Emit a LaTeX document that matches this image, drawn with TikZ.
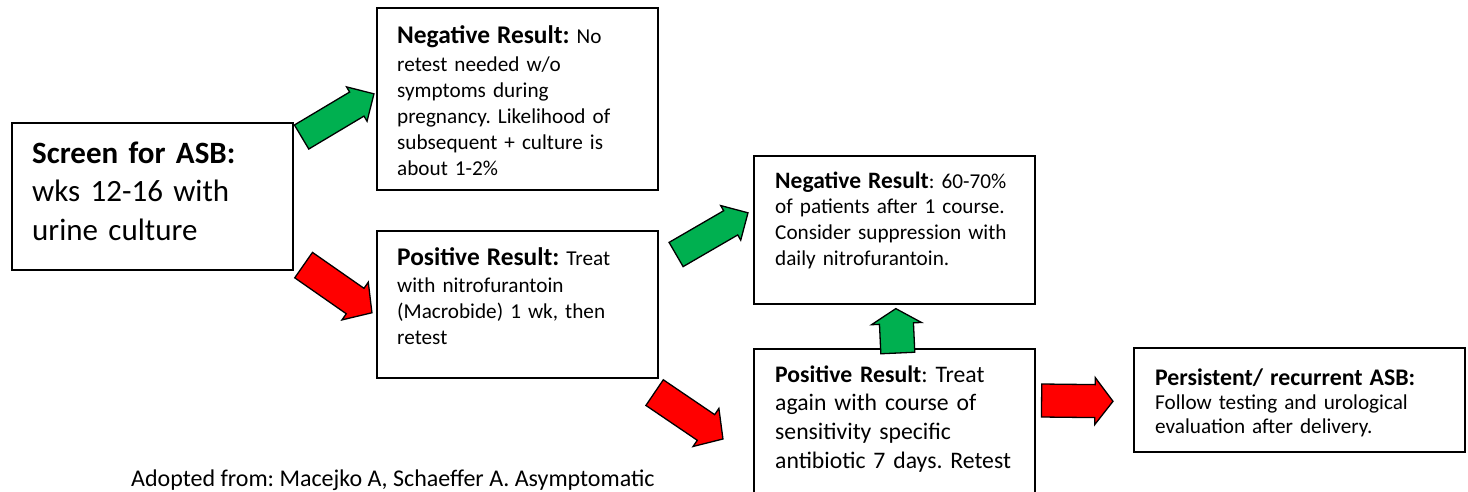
\documentclass[tikz,border=0pt]{standalone}
\usepackage{fontspec}
\setmainfont{Carlito}
\usetikzlibrary{calc}
\frenchspacing
\definecolor{ink}{RGB}{0,0,0}
\definecolor{okgreen}{RGB}{0,176,80}
\definecolor{alarmred}{RGB}{255,0,0}
\newcommand{\bodysize}{\fontsize{21.2}{25.8}\selectfont}
\newcommand{\headline}[1]{{\fontsize{25.4}{25.8}\selectfont\bfseries #1}}
% block arrow: fill, shaft width, head width, head length, tail, tip
\newcommand{\blockarrow}[6]{%
    \path (#5); \pgfgetlastxy{\baxa}{\baya}%
    \path (#6); \pgfgetlastxy{\baxb}{\bayb}%
    \pgfmathsetmacro{\baang}{atan2(\bayb-\baya,\baxb-\baxa)}%
    \pgfmathsetmacro{\balen}{veclen(\baxb-\baxa,\bayb-\baya)}%
    \pgfmathsetmacro{\baneck}{\balen-#4}%
    \draw[blockarrow, fill=#1, shift={(#5)}, rotate=\baang]
        (0,{-#2/2}) -- (\baneck,{-#2/2}) -- (\baneck,{-#3/2}) -- (\balen,0)
        -- (\baneck,{#3/2}) -- (\baneck,{#2/2}) -- (0,{#2/2}) -- cycle;
}
\tikzset{
    box/.style={
        rectangle,
        draw=ink,
        line width=1.6pt,
        fill=white,
        inner sep=0pt,
        anchor=north west
    },
    boxtext/.style={
        anchor=base west,
        inner sep=0pt,
        align=left,
        text width=255pt,
        text=ink,
        font=\bodysize
    },
    blockarrow/.style={
        draw=ink,
        line width=1.3pt,
        line join=miter
    }
}

\begin{document}
\begin{tikzpicture}[x=1pt, y=1pt]
    \useasboundingbox (0,0) rectangle (1468,-491);
    \clip (0,0) rectangle (1468,-491);

    % Boxes
    \node[box, minimum width=281, minimum height=147] (screen) at (11,-122) {};
    \node[box, minimum width=281, minimum height=182] (neg1) at (376,-7) {};
    \node[box, minimum width=281, minimum height=147] (pos1) at (376,-230) {};
    \node[box, minimum width=281, minimum height=148] (neg2) at (753,-155) {};
    \node[box, minimum width=281, minimum height=170] (pos2) at (753,-348) {};
    \node[box, minimum width=331, minimum height=104] (persist) at (1133,-347) {};

    % Box texts
    \node[boxtext, font=\fontsize{31}{38.5}\selectfont] (screentxt) at (32,-163)
        {\textbf{Screen for ASB:}\\wks 12-16 with\\urine culture};
    \node[boxtext] (neg1txt) at (397,-43)
        {\headline{Negative Result:} No\\[3pt] retest needed w/o\\ symptoms during\\
         pregnancy. Likelihood of\\ subsequent + culture is\\ about 1-2\%};
    \node[boxtext] (pos1txt) at (397,-265)
        {\headline{Positive Result:} Treat\\[2pt] with nitrofurantoin\\
         (Macrobide) 1 wk, then\\ retest};
    \node[boxtext] (neg2txt) at (775,-188)
        {{\fontsize{23.5}{25.8}\selectfont\bfseries Negative Result}: 60-70\%\\ of patients after 1 course.\\
         Consider suppression with\\ daily nitrofurantoin.};
    \node[boxtext, font=\fontsize{23.7}{28.7}\selectfont] (pos2txt) at (775,-382)
        {\textbf{Positive Result}: Treat\\ again with course of\\
         sensitivity specific\\ antibiotic 7 days. Retest};
    \node[boxtext, text width=300pt, font=\fontsize{21.2}{24}\selectfont] (persisttxt) at (1155,-385)
        {{\fontsize{23.8}{24}\selectfont\bfseries Persistent/ recurrent ASB:}\\
         Follow testing and urological\\ evaluation after delivery.};

    % Source line
    \node[anchor=base west, inner sep=0pt, text=ink, font=\fontsize{24}{28}\selectfont] (source) at (131,-486)
        {Adopted from: Macejko A, Schaeffer A. Asymptomatic};

    % Arrow ends
    \coordinate (g1tail) at ($(screen.north east)+(8,-15)$);
    \coordinate (g1tip) at ($(neg1.west)+(-2,5)$);
    \coordinate (r1tail) at ($(screen.south east)+(10,5.5)$);
    \coordinate (r1tip) at ($(pos1.west)+(-4,-8.5)$);
    \coordinate (g2tail) at ($(pos1.north east)+(17.5,-24.5)$);
    \coordinate (g2tip) at ($(neg2.west)+(-5,17)$);
    \coordinate (r2tail) at ($(pos1.south east)+(-4,-14)$);
    \coordinate (r2tip) at ($(pos2.north west)+(-30,-91)$);
    \coordinate (uptail) at ($(pos2.north)+(3.5,-5)$);
    \coordinate (uptip) at ($(neg2.south)+(1.5,-4)$);
    \coordinate (r3tail) at ($(pos2.north east)+(6,-52.5)$);
    \coordinate (r3tip) at ($(persist.west)+(-20,-1.5)$);

    % Block arrows
    \blockarrow{okgreen}{28}{40}{20}{g1tail}{g1tip}
    \blockarrow{alarmred}{31}{46}{20.5}{r1tail}{r1tip}
    \blockarrow{okgreen}{28}{40}{20}{g2tail}{g2tip}
    \blockarrow{alarmred}{31}{46}{20.5}{r2tail}{r2tip}
    \blockarrow{okgreen}{34}{50}{15}{uptail}{uptip}
    \blockarrow{alarmred}{33}{47}{18}{r3tail}{r3tip}

\end{tikzpicture}
\end{document}
